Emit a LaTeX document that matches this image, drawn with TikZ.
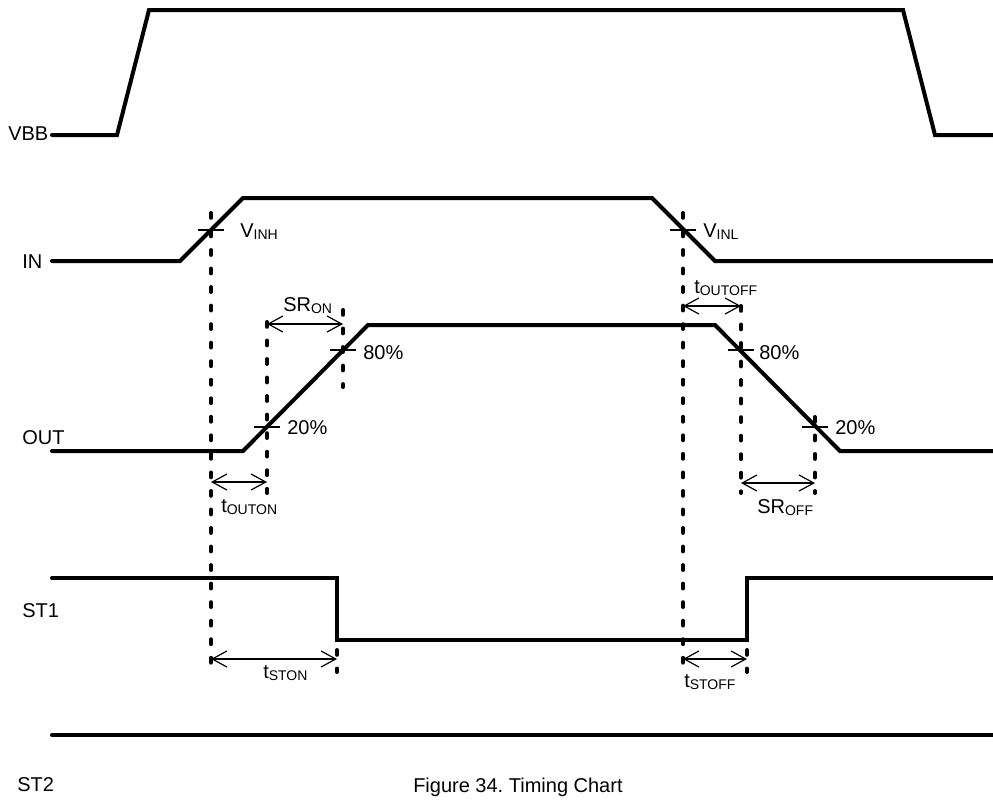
\documentclass[tikz,border=0pt]{standalone}
\usepackage{fontspec}
\setmainfont{Liberation Sans}
\usetikzlibrary{arrows.meta}
\frenchspacing
\newcommand{\lo}[1]{\raisebox{-1.6pt}{\fontsize{10.5}{12}\selectfont #1}}
\tikzset{
  wave/.style={line width=3pt, line cap=round, line join=miter},
  guide/.style={line width=3pt, line cap=round, dash pattern=on 3.6pt off 10.3pt},
  levelmark/.style={line width=1.1pt},
  timearrow/.style={line width=0.9pt, {Straight Barb[length=11pt,width=12pt]}-{Straight Barb[length=11pt,width=12pt]}},
  lbl/.style={anchor=base west, inner sep=0pt}
}
\begin{document}
\begin{tikzpicture}[x=0.75pt, y=-0.75pt, every node/.style={font=\fontsize{15}{18}\selectfont}]
  \useasboundingbox (0,0) rectangle (993,801);
  % signal names
  \node[lbl] (vbbname) at (8,140) {VBB};
  \node[lbl] (inname) at (22,268) {IN};
  \node[lbl] (outname) at (22,444) {OUT};
  \node[lbl] (st1name) at (22,617) {ST1};
  \node[lbl] (st2name) at (17,791) {ST2};
  \node[lbl] (caption) at (413,792) {Figure 34. Timing Chart};
  % waveforms
  \draw[wave] (52,135) -- (117,135) -- (149,10) -- (903,10) -- (935,135) -- (993,135);
  \draw[wave] (52,261) -- (180,261) -- (243,198) -- (652,198) -- (715,261) -- (993,261);
  \draw[wave] (52,451) -- (243,451) -- (368,325) -- (715,325) -- (840,451) -- (993,451);
  \draw[wave] (52,578) -- (337,578) -- (337,640) -- (747,640) -- (747,578) -- (993,578);
  \draw[wave] (52,735) -- (993,735);
  % level crossings
  \coordinate (vinh) at (211,230);
  \coordinate (vinl) at (683,230);
  \coordinate (on20) at (267,427);
  \coordinate (on80) at (343,350);
  \coordinate (off80) at (741,350);
  \coordinate (off20) at (815,427);
  \foreach \p in {vinh,vinl,on20,on80,off80,off20}
    \draw[levelmark] (\p) ++(-13,0) -- ++(26,0);
  \node[lbl] (vinhlbl) at (240,237) {V\lo{INH}};
  \node[lbl] (vinllbl) at (703,237) {V\lo{INL}};
  \node[lbl] (on20lbl) at (287,434) {20\%};
  \node[lbl] (on80lbl) at (363,359) {80\%};
  \node[lbl] (off80lbl) at (759,359) {80\%};
  \node[lbl] (off20lbl) at (835,434) {20\%};
  % guides
  \draw[guide] (211,213) -- (211,672);
  \draw[guide] (683,213) -- (683,672);
  \draw[guide] (267,322) -- (267,493);
  \draw[guide] (343,310) -- (343,387);
  \draw[guide] (741,306) -- (741,493);
  \draw[guide] (815,417) -- (815,493);
  \draw[guide] (337,650) -- (337,672);
  \draw[guide] (747,650) -- (747,672);
  % time spans
  \coordinate (sronl) at (267,324);
  \coordinate (sronr) at (343,324);
  \coordinate (toonl) at (211,482);
  \coordinate (toonr) at (267,482);
  \coordinate (tooffl) at (683,306);
  \coordinate (tooffr) at (741,306);
  \coordinate (sroffl) at (741,483);
  \coordinate (sroffr) at (815,483);
  \coordinate (tstonl) at (211,659);
  \coordinate (tstonr) at (337,659);
  \coordinate (tstoffl) at (683,659);
  \coordinate (tstoffr) at (747,659);
  \draw[timearrow] (sronl) -- (sronr);
  \draw[timearrow] (toonl) -- (toonr);
  \draw[timearrow] (tooffl) -- (tooffr);
  \draw[timearrow] (sroffl) -- (sroffr);
  \draw[timearrow] (tstonl) -- (tstonr);
  \draw[timearrow] (tstoffl) -- (tstoffr);
  \node[lbl] (sronlbl) at (283,311) {SR\lo{ON}};
  \node[lbl] (toonlbl) at (221,512) {t\lo{OUTON}};
  \node[lbl] (tofflbl) at (694,293) {t\lo{OUTOFF}};
  \node[lbl] (srofflbl) at (757,513) {SR\lo{OFF}};
  \node[lbl] (tstonlbl) at (263,678) {t\lo{STON}};
  \node[lbl] (tstofflbl) at (684,687) {t\lo{STOFF}};
\end{tikzpicture}
\end{document}
